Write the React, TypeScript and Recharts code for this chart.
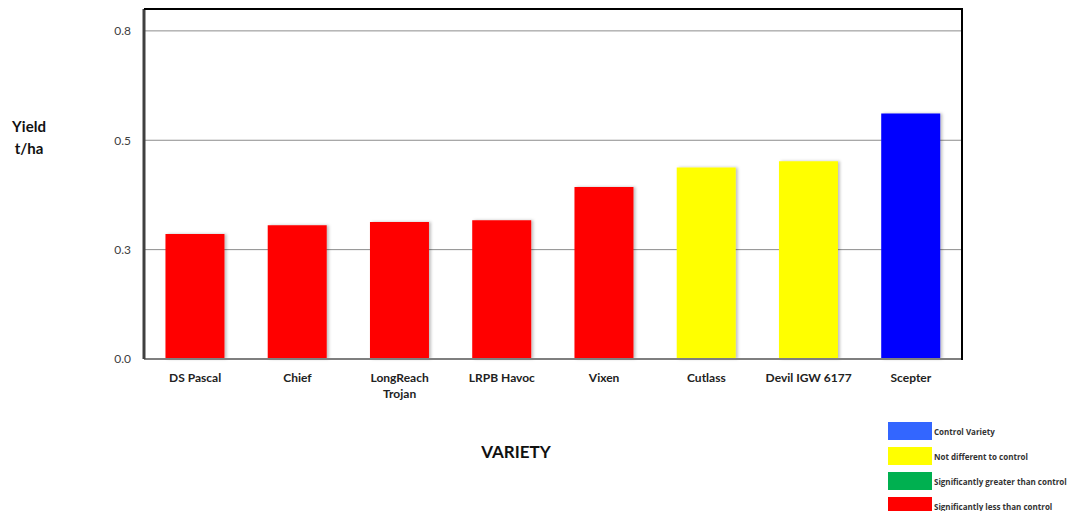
import React from "react";
import { Bar, BarChart, CartesianGrid, Cell, XAxis, YAxis } from "recharts";

document.body.style.margin = "0";

const varieties = [
  "DS Pascal",
  "Chief",
  "LongReach Trojan",
  "LRPB Havoc",
  "Vixen",
  "Cutlass",
  "Devil IGW 6177",
  "Scepter",
];
const yields = [0.286, 0.306, 0.313, 0.317, 0.393, 0.438, 0.452, 0.561];
const status = ["less", "less", "less", "less", "less", "same", "same", "control"];
const yTicks = [0, 0.25, 0.5, 0.75];

const barColors: Record<string, string> = {
  control: "#0000ff",
  same: "#ffff00",
  greater: "#00b050",
  less: "#ff0000",
};

const legendItems = [
  { label: "Control Variety", color: "#3366ff" },
  { label: "Not different to control", color: "#ffff00" },
  { label: "Significantly greater than control", color: "#00b050" },
  { label: "Significantly less than control", color: "#ff0000" },
];

const data = varieties.map((name, i) => ({ name, yield: yields[i], status: status[i] }));

const font = "Lato, 'Open Sans', sans-serif";

function VarietyTick(props: any) {
  const { x, y, payload } = props;
  const text: string = payload.value;
  const cut = text.lastIndexOf(" ");
  const lines = text.length > 15 ? [text.slice(0, cut), text.slice(cut + 1)] : [text];
  return (
    <text x={x} y={y} textAnchor="middle" fontFamily={font} fontWeight={700} fontSize={12} fill="#222">
      {lines.map((l, i) => (
        <tspan key={i} x={x} dy={i === 0 ? 19 : 16}>
          {l}
        </tspan>
      ))}
    </text>
  );
}

export default function App() {
  return (
    <div style={{ position: "relative", width: 1069, height: 511, background: "#fff", fontFamily: font }}>
      <BarChart
        width={1069}
        height={511}
        data={data}
        margin={{ top: 9, right: 107, left: 0, bottom: 92 }}
        barCategoryGap="21%"
      >
        <defs>
          <filter id="barShadow" x="-10%" y="-5%" width="130%" height="110%">
            <feDropShadow dx="2" dy="0" stdDeviation="1.5" floodColor="#000" floodOpacity="0.25" />
          </filter>
        </defs>
        <CartesianGrid vertical={false} stroke="#8c8c8c" strokeWidth={1} />
        <XAxis
          dataKey="name"
          height={60}
          tick={<VarietyTick />}
          tickLine={false}
          axisLine={{ stroke: "#7f7f7f", strokeWidth: 2 }}
          interval={0}
          tickSize={4}
          tickMargin={0}
        />
        <YAxis
          width={144}
          domain={[0, 0.8]}
          ticks={yTicks}
          tickFormatter={(v: number) => v.toFixed(1)}
          tick={{ fill: "#404040", fontSize: 12, fontFamily: font }}
          tickLine={false}
          tickSize={5}
          tickMargin={8}
          axisLine={{ stroke: "#404040", strokeWidth: 3 }}
        />
        <Bar dataKey="yield" isAnimationActive={false} style={{ filter: "url(#barShadow)" }}>
          {data.map((d, i) => (
            <Cell key={i} fill={barColors[d.status]} />
          ))}
        </Bar>
      </BarChart>

      {/* plot frame: top and right edges */}
      <div
        style={{
          position: "absolute",
          left: 144,
          top: 8,
          width: 817,
          height: 350,
          borderTop: "2px solid #000",
          borderRight: "2px solid #000",
          pointerEvents: "none",
        }}
      />

      <div style={{ position: "absolute", left: 0, top: 115, width: 58, textAlign: "center", fontWeight: 700, fontSize: 15, lineHeight: "22px", color: "#111" }}>
        Yield
        <br />
        t/ha
      </div>
      <div style={{ position: "absolute", left: 416, top: 441, width: 200, textAlign: "center", fontWeight: 700, fontSize: 17, color: "#111" }}>
        VARIETY
      </div>
      <div style={{ position: "absolute", left: 888, top: 422 }}>
        {legendItems.map((it) => (
          <div key={it.label} style={{ display: "flex", alignItems: "center", height: 18, marginBottom: 7 }}>
            <div style={{ width: 44, height: 18, background: it.color }} />
            <span style={{ marginLeft: 2, fontSize: 8, fontWeight: 700, fontFamily: "'Open Sans', sans-serif", color: "#333", whiteSpace: "nowrap" }}>
              {it.label}
            </span>
          </div>
        ))}
      </div>
    </div>
  );
}
